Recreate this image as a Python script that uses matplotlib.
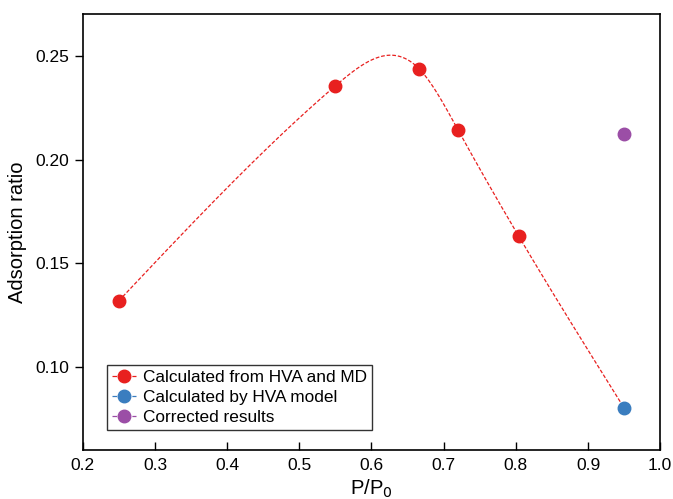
import numpy as np
import matplotlib
matplotlib.use('Agg')
import matplotlib.pyplot as plt

# data
hva_md_x = [0.25, 0.55, 0.666, 0.72, 0.804]
hva_md_y = [0.132, 0.2356, 0.2438, 0.2143, 0.1631]
hva_model_x = [0.95]
hva_model_y = [0.0803]
corrected_x = [0.95]
corrected_y = [0.2123]

red = '#e8201f'
blue = '#3a7dbf'
purple = '#9b4ea6'


def natural_spline(x, y, xs):
    # natural cubic spline through the given points
    x = np.asarray(x, float)
    y = np.asarray(y, float)
    n = len(x)
    h = np.diff(x)
    A = np.zeros((n, n))
    r = np.zeros(n)
    A[0, 0] = 1
    A[-1, -1] = 1
    for i in range(1, n - 1):
        A[i, i - 1] = h[i - 1]
        A[i, i] = 2 * (h[i - 1] + h[i])
        A[i, i + 1] = h[i]
        r[i] = 3 * ((y[i + 1] - y[i]) / h[i] - (y[i] - y[i - 1]) / h[i - 1])
    c = np.linalg.solve(A, r)
    b = (y[1:] - y[:-1]) / h - h * (2 * c[:-1] + c[1:]) / 3
    d = (c[1:] - c[:-1]) / (3 * h)
    idx = np.clip(np.searchsorted(x, xs) - 1, 0, n - 2)
    dx = xs - x[idx]
    return y[idx] + b[idx] * dx + c[idx] * dx ** 2 + d[idx] * dx ** 3


plt.rcParams['font.family'] = ['Liberation Sans', 'DejaVu Sans']

fig = plt.figure(figsize=(6.73, 4.99), dpi=100)
ax = fig.add_axes([0.123, 0.098, 0.858, 0.873])

line_x = hva_md_x + hva_model_x
line_y = hva_md_y + hva_model_y
xs = np.linspace(line_x[0], line_x[-1], 400)
ax.plot(xs, natural_spline(line_x, line_y, xs), '--', color=red, lw=0.9,
        dashes=(3, 1.5))

ax.plot(hva_md_x, hva_md_y, 'o', color=red, ms=9, zorder=3)
ax.plot(hva_model_x, hva_model_y, 'o', color=blue, ms=9, zorder=3)
ax.plot(corrected_x, corrected_y, 'o', color=purple, ms=9, zorder=3)

# legend handles: marker with short line
h1, = ax.plot([], [], 'o-', color=red, ms=9, lw=0.9, ls='--')
h2, = ax.plot([], [], 'o-', color=blue, ms=9, lw=0.9, ls='--')
h3, = ax.plot([], [], 'o-', color=purple, ms=9, lw=0.9, ls='--')
leg = ax.legend([h1, h2, h3],
                ['Calculated from HVA and MD', 'Calculated by HVA model',
                 'Corrected results'],
                loc='lower left', bbox_to_anchor=(0.042, 0.045),
                fontsize=12.4, frameon=True, fancybox=False, edgecolor='black',
                handlelength=1.4, handletextpad=0.4, borderpad=0.3,
                labelspacing=0.3, borderaxespad=0)
leg.get_frame().set_linewidth(1.0)

ax.set_xlim(0.2, 1.0)
ax.set_ylim(0.06, 0.27)
ax.set_xticks(np.arange(0.2, 1.01, 0.1))
ax.set_xticklabels(['0.2', '0.3', '0.4', '0.5', '0.6', '0.7', '0.8', '0.9', '1.0'])
ax.set_yticks([0.10, 0.15, 0.20, 0.25])
ax.set_yticklabels(['0.10', '0.15', '0.20', '0.25'])
ax.tick_params(axis='x', direction='in', length=6, width=1, labelsize=12.5, pad=6)
ax.tick_params(axis='y', direction='out', length=6, width=1, labelsize=12.5)
for s in ax.spines.values():
    s.set_linewidth(1.2)

ax.set_xlabel('P/P$_0$', fontsize=14.5, labelpad=3)
ax.set_ylabel('Adsorption ratio', fontsize=14.5, labelpad=6)

plt.savefig('out.png', dpi=100)
plt.close()
